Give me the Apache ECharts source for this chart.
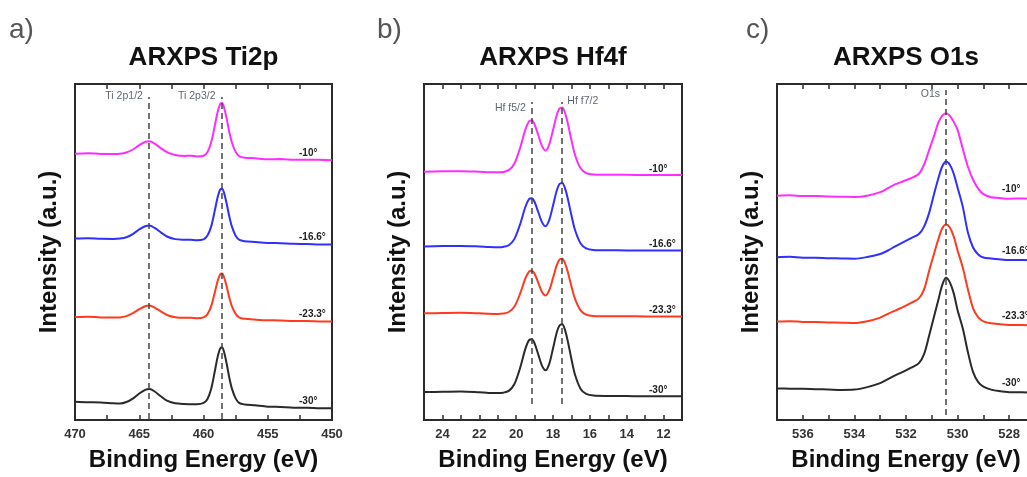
<!DOCTYPE html>
<html>
<head>
<meta charset="utf-8">
<script src="https://cdn.jsdelivr.net/npm/echarts@6.0.0/dist/echarts.min.js"></script>
<style>html,body{margin:0;padding:0;background:#fff;overflow:hidden;width:1027px;height:477px}#c{width:1062px;height:477px}</style>
</head>
<body>
<div id="c"></div>
<script>
// ---------------- DATA ----------------
const angleLabels = ['-10°', '-16.6°', '-23.3°', '-30°'];

// Panel a) Ti 2p  (binding energy, eV)
const tiX = [470, 469, 468, 467, 466.5, 466, 465.5, 465, 464.5, 464.2, 463.8, 463.3, 462.8, 462.2, 461.5, 461, 460.5, 460, 459.7, 459.4, 459.1, 458.9, 458.7, 458.55, 458.4, 458.2, 458, 457.8, 457.5, 457.2, 456.8, 456, 455, 454, 453, 452, 451, 450];
const ti_m10 = [267.0, 267.6, 266.8, 266.7, 267.0, 268.3, 271.3, 275.7, 279.1, 279.5, 277.2, 272.5, 268.4, 265.8, 264.8, 265.1, 264.3, 265.0, 268.6, 278.6, 296.4, 308.8, 316.9, 318.0, 313.5, 302.5, 289.3, 278.9, 268.9, 264.4, 263.1, 262.5, 261.6, 261.7, 261.1, 261.0, 260.9, 260.5];
const ti_m16 = [182.0, 182.4, 181.7, 181.6, 182.0, 183.3, 186.5, 191.1, 194.6, 195.0, 192.6, 188.0, 183.8, 181.4, 180.8, 180.7, 180.3, 181.2, 184.7, 194.2, 211.4, 223.4, 231.2, 232.0, 227.8, 217.2, 204.6, 194.4, 184.9, 180.6, 179.3, 178.5, 177.6, 177.3, 176.7, 176.6, 176.1, 176.0];
const ti_m23 = [103.2, 103.6, 102.9, 102.7, 102.9, 104.2, 107.1, 111.2, 114.4, 114.8, 112.8, 108.7, 105.1, 103.1, 102.5, 102.5, 102.1, 102.9, 105.9, 114.2, 129.0, 139.4, 146.1, 147.0, 143.2, 134.1, 123.2, 114.5, 106.4, 102.6, 101.5, 100.7, 100.0, 99.9, 99.2, 99.3, 98.9, 98.8];
const ti_m30 = [18.3, 17.8, 17.6, 16.7, 16.5, 18.0, 21.5, 26.6, 30.5, 31.0, 28.6, 23.5, 19.1, 16.7, 16.0, 15.9, 15.8, 17.1, 20.9, 31.4, 50.2, 63.3, 71.9, 73.0, 68.2, 56.7, 43.0, 32.0, 21.7, 16.9, 15.6, 14.7, 13.4, 13.1, 12.4, 12.4, 11.9, 11.8];
const tiPeaks = [464.25, 458.6];
const tiPeakNames = ['Ti 2p1/2', 'Ti 2p3/2'];

// Panel b) Hf 4f
const hfX = [25, 24, 23, 22, 21.5, 21, 20.7, 20.4, 20.1, 19.8, 19.5, 19.3, 19.15, 19.0, 18.8, 18.6, 18.4, 18.2, 18.0, 17.8, 17.65, 17.5, 17.35, 17.2, 17.0, 16.8, 16.5, 16.2, 15.8, 15, 14, 13, 12, 11];
const hf_m10 = [249, 249.4, 249.6, 249, 248.6, 248.4, 248.8, 250.6, 257.0, 272.0, 291.2, 299.6, 300.5, 296.6, 285.8, 275.0, 270.2, 276.6, 290.6, 305.6, 312.4, 313.5, 308.2, 297.8, 280.8, 265.6, 252.4, 247.6, 246.2, 245.9, 245.9, 245.8, 245.8, 245.8];
const hf_m16 = [174, 174.4, 174.6, 174, 173.5, 173.2, 173.6, 175.3, 181.4, 195.4, 213.6, 221.5, 222.3, 218.7, 208.6, 198.5, 194.3, 200.9, 215.0, 229.9, 236.7, 237.8, 232.6, 222.2, 205.3, 190.3, 177.1, 172.2, 170.6, 170.2, 170.1, 170, 170, 169.9];
const hf_m23 = [107, 107.3, 107.5, 107, 106.6, 106.4, 106.8, 108.3, 113.6, 125.9, 142.0, 148.9, 149.7, 146.6, 137.7, 128.7, 124.8, 130.4, 142.4, 155.1, 160.8, 161.8, 157.4, 148.6, 134.2, 121.2, 109.9, 105.7, 104.3, 104, 104, 103.9, 103.8, 103.8];
const hf_m30 = [28, 28.3, 28.6, 27.8, 27.2, 27, 27.4, 29.2, 35.8, 51.2, 71.3, 80.1, 81, 76.9, 65.8, 54.6, 49.9, 56.6, 71.7, 87.5, 94.8, 96, 90.4, 79.3, 61.2, 45.1, 31.2, 26.2, 24.5, 24.1, 24, 23.8, 23.8, 23.7];
const hfPeaks = [19.15, 17.55];
const hfPeakNames = ['Hf f5/2', 'Hf f7/2'];

// Panel c) O 1s
const oX = [537, 536.5, 536, 535.5, 535, 534.5, 534, 533.5, 533, 532.7, 532.4, 532.1, 531.8, 531.5, 531.3, 531.1, 530.9, 530.75, 530.6, 530.45, 530.3, 530.15, 530.0, 529.8, 529.6, 529.4, 529.2, 529.0, 528.7, 528.4, 528, 527.5, 527];
const o_m10 = [225, 225.4, 224.6, 224.7, 224.1, 223.9, 223.7, 225, 228.5, 232.5, 236.5, 239.5, 242.5, 247, 256, 271, 286, 298, 305, 307.7, 305, 299, 291, 272, 254, 241, 232, 226.5, 223.5, 222.7, 221.9, 222.2, 222];
const o_m16 = [163.3, 163.7, 162.8, 162.8, 162.2, 162.1, 161.8, 163.5, 166.5, 170, 174.5, 178.5, 182.5, 186.5, 194, 208, 228, 242, 254, 259.3, 256, 247, 233, 214, 188, 173, 166, 163, 162, 161.2, 160.5, 160.5, 160.3];
const o_m23 = [98.7, 99.0, 98.4, 98.3, 97.9, 97.6, 97.2, 99, 102.7, 106.5, 110, 113.5, 117.5, 122, 131, 150, 168, 181, 192, 196, 193, 184, 170, 153, 131, 112, 103, 99, 97, 96.2, 95.4, 95.2, 95];
const o_m30 = [31.7, 31.4, 31.3, 30.9, 30.6, 30.2, 30.5, 33, 37, 41, 45, 48.5, 52.5, 57, 66, 85, 105, 120, 135, 142.7, 138, 127, 110, 92, 68, 48, 38, 33.5, 30.5, 29.0, 27.9, 27.8, 27.5];
const oPeaks = [530.45];
const oPeakNames = ['O1s'];

// ---------------- STYLE / LAYOUT ----------------
const FONT = '"Liberation Sans", Arial, Helvetica, sans-serif';
const lineColors = ['#ff2cff', '#2f2fff', '#ff3a1e', '#2a2a2a'];

const panels = [
  { letter: 'a)', letterX: 9, title: 'ARXPS Ti2p', grid: { left: 75, top: 84, width: 257, height: 337 },
    min: 450, max: 470, interval: 2.5, labelEvery: 5, x: tiX, ys: [ti_m10, ti_m16, ti_m23, ti_m30],
    peaks: tiPeaks, peakNames: tiPeakNames, sides: ['left', 'left'], annY: [325, 325], dash: [1, 324], endDy: -7 },
  { letter: 'b)', letterX: 377, title: 'ARXPS Hf4f', grid: { left: 424, top: 84, width: 258, height: 337 },
    min: 11, max: 25, interval: 1, labelEvery: 2, x: hfX, ys: [hf_m10, hf_m16, hf_m23, hf_m30],
    peaks: hfPeaks, peakNames: hfPeakNames, sides: ['left', 'right'], annY: [313, 320], dash: [16, 319], endDy: -6 },
  { letter: 'c)', letterX: 746, title: 'ARXPS O1s', grid: { left: 777, top: 84, width: 258, height: 337 },
    min: 527, max: 537, interval: 1, labelEvery: 2, x: oX, ys: [o_m10, o_m16, o_m23, o_m30],
    peaks: oPeaks, peakNames: oPeakNames, sides: ['left'], annY: [327], dash: [5, 331], endDy: -9 }
];

const grid = [], xAxis = [], yAxis = [], series = [], graphic = [];

panels.forEach((p, i) => {
  grid.push(Object.assign({ show: true, borderColor: '#2b2b2b', borderWidth: 2, backgroundColor: 'transparent' }, p.grid));
  const tick = { inside: true, length: 5, lineStyle: { color: '#2b2b2b', width: 1.5 } };
  xAxis.push({
    type: 'value', gridIndex: i, min: p.min, max: p.max, interval: p.interval, inverse: true, position: 'bottom',
    axisLine: { show: false }, axisTick: tick, splitLine: { show: false },
    axisLabel: {
      margin: 8, fontSize: 13, fontWeight: 'bold', color: '#333', fontFamily: FONT,
      formatter: v => (Math.abs(v / p.labelEvery - Math.round(v / p.labelEvery)) < 1e-6 ? String(v) : '')
    },
    name: 'Binding Energy (eV)', nameLocation: 'middle', nameGap: 28,
    nameTextStyle: { fontSize: 24, fontWeight: 'bold', color: '#111', fontFamily: FONT }
  });
  xAxis.push({
    type: 'value', gridIndex: i, min: p.min, max: p.max, interval: p.interval, inverse: true, position: 'top',
    axisLine: { show: false }, axisTick: tick, axisLabel: { show: false }, splitLine: { show: false }
  });
  yAxis.push({
    type: 'value', gridIndex: i, min: 0, max: 337,
    axisLine: { show: false }, axisTick: { show: false }, axisLabel: { show: false }, splitLine: { show: false },
    name: 'Intensity (a.u.)', nameLocation: 'middle', nameGap: 14,
    nameTextStyle: { fontSize: 24, fontWeight: 'bold', color: '#111', fontFamily: FONT }
  });

  p.ys.forEach((ys, k) => {
    const s = {
      type: 'line', xAxisIndex: 2 * i, yAxisIndex: i, silent: true, animation: false,
      data: p.x.map((e, j) => [e, ys[j]]),
      showSymbol: false, symbol: 'none', smooth: 0.3,
      lineStyle: { color: lineColors[k], width: 2 }, itemStyle: { color: lineColors[k] },
      endLabel: {
        show: true, formatter: angleLabels[k], align: 'left', distance: 0, offset: [-33, p.endDy],
        fontSize: 10, fontWeight: 'bold', color: '#222', fontFamily: FONT
      },
      z: 3
    };
    if (k === 0) {
      s.markLine = {
        silent: true, symbol: ['none', 'none'], animation: false, label: { show: false },
        lineStyle: { type: [6, 4], color: '#444', width: 1.5 },
        data: p.peaks.map(e => [{ coord: [e, p.dash[0]] }, { coord: [e, p.dash[1]] }])
      };
    }
    series.push(s);
  });

  series.push({
    type: 'scatter', xAxisIndex: 2 * i, yAxisIndex: i, silent: true, animation: false, symbolSize: 0,
    data: p.peaks.map((e, k) => ({ value: [e, p.annY[k]], label: { position: p.sides[k] } })),
    label: { show: true, formatter: prm => p.peakNames[prm.dataIndex], fontSize: 10.5, color: '#34404c', distance: 6, fontFamily: FONT }
  });

  const cx = p.grid.left + p.grid.width / 2;
  graphic.push({ type: 'text', x: p.letterX, y: 30, style: { text: p.letter, font: 'normal 28px ' + FONT, fill: '#555', textVerticalAlign: 'middle' } });
  graphic.push({ type: 'text', x: cx, y: 58, style: { text: p.title, font: 'bold 26px ' + FONT, fill: '#111', textAlign: 'center', textVerticalAlign: 'middle' } });
});

const chart = echarts.init(document.getElementById('c'), null, { renderer: 'canvas' });
chart.setOption({ backgroundColor: '#fff', animation: false, grid, xAxis, yAxis, series, graphic });
</script>
</body>
</html>
